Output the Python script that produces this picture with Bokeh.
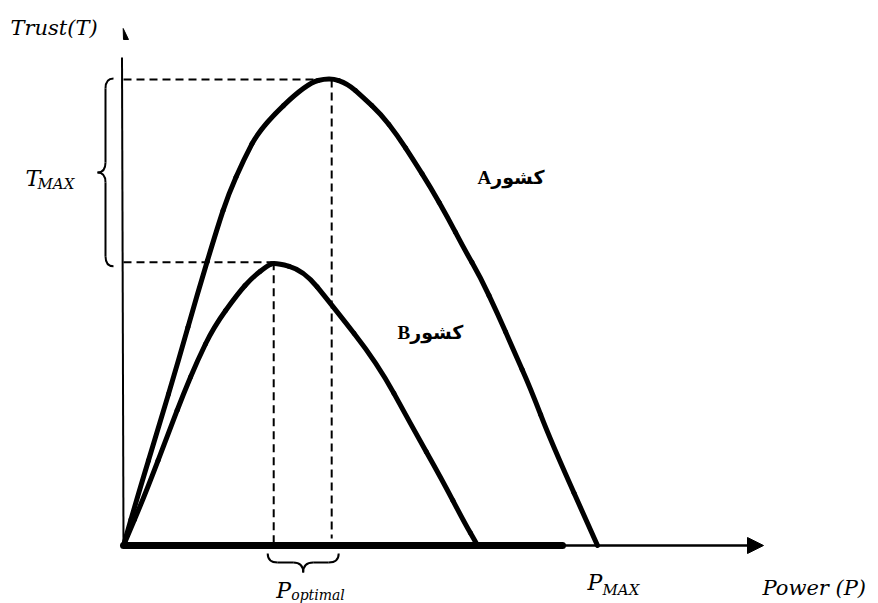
from bokeh.plotting import figure
from bokeh.models import Range1d
from bokeh.embed import file_html
from bokeh.resources import INLINE
from bokeh.core.properties import value

# ---- data (Power P, Trust T) ----
power_a = [0, 3.16, 7.38, 11.6, 15.6, 19.8, 22.2, 25.3, 28.9, 38.6, 43.5,
           47.3, 50.6, 54.2, 57.8, 61.2, 64.8, 68.4, 71.7, 75.3, 78.9, 82.3, 85.9, 90.1, 100]
trust_a = [0, 11.1, 25.2, 39.5, 53.8, 67.9, 75.2, 82.3, 89.3, 98.7, 100,
           98.7, 95.7, 92.3, 87.6, 82.3, 76.5, 70.1, 63.7, 57.3, 49.6, 41.7, 33.5, 22.4, 0]
power_b = [0, 4.64, 9.92, 12.7, 15.6, 19.0, 24.1, 27.2, 30.4, 31.9, 38.0, 43.7, 53.6, 60.5, 67.3, 71.7, 74.7]
trust_b = [0, 11.1, 25.2, 32.5, 39.5, 46.6, 53.8, 57.3, 59.8, 60.5, 58.8, 51.7, 38.9, 26.1, 13.9, 5.3, 0]
peak_a = (43.5, 100.0)
peak_b = (31.9, 60.5)
p_max = 100.0

label_a = "Aکشور"
label_b = "Bکشور"
y_title = "Trust(T)"
x_title = "Power (P)"

# ---- layout ----
W, H = 878, 603
SX, SY = 4.74, 4.68          # px per data unit
OX, OY = 123, 58             # origin in frame px (from left, from bottom)

def dx(px):
    return px / SX

def dy(px):
    return px / SY

p = figure(width=W, height=H, output_backend="svg", toolbar_location=None,
           x_range=Range1d(-OX / SX, (W - OX) / SX),
           y_range=Range1d(-OY / SY, (H - OY) / SY),
           min_border=0, background_fill_color="white", border_fill_color="white")
p.xaxis.visible = False
p.yaxis.visible = False
p.grid.visible = False
p.outline_line_color = None

# ---- axes drawn as arrows ----
y_top = dy(488)
p.line([0, -dx(1.5)], [0, y_top], line_color="black", line_width=2)
p.patch([dx(-0.3), 0, dx(5)], [dy(517), dy(506), dy(506)], color="black")
x_end = dx(625)
p.line([0, x_end], [0, 0], line_color="black", line_width=2.5)
p.line([0, dx(439)], [0, 0], line_color="black", line_width=7, line_cap="round")
p.patch([x_end - dx(1), x_end - dx(1), x_end + dx(15)], [dy(8), -dy(8), 0], color="black")

# ---- dashed guides ----
dash = "8 5"
p.line([0, peak_a[0]], [peak_a[1] - dy(2), peak_a[1] - dy(2)], line_color="black", line_width=2, line_dash=dash)
p.line([0, peak_b[0]], [peak_b[1], peak_b[1]], line_color="black", line_width=2, line_dash=dash)
p.line([peak_a[0] + dx(2), peak_a[0] + dx(2)], [peak_a[1] - dy(2), dy(7)], line_color="black", line_width=2, line_dash=dash)
p.line([peak_b[0] - dx(1), peak_b[0] - dx(1)], [peak_b[1], 0], line_color="black", line_width=2, line_dash=dash)


# ---- curves: smooth quadratic rendering with the read points as control points ----
def draw_curve(xs_, ys_):
    n = len(xs_)
    mx = [(xs_[i] + xs_[i + 1]) / 2 for i in range(n - 1)]
    my = [(ys_[i] + ys_[i + 1]) / 2 for i in range(n - 1)]
    p.segment(x0=[xs_[0], mx[-1]], y0=[ys_[0], my[-1]], x1=[mx[0], xs_[-1]], y1=[my[0], ys_[-1]],
              line_color="black", line_width=5, line_cap="round")
    p.quadratic(x0=mx[:-1], y0=my[:-1], x1=mx[1:], y1=my[1:], cx=xs_[1:-1], cy=ys_[1:-1],
                line_color="black", line_width=5, line_cap="round")


draw_curve(power_a, trust_a)
draw_curve(power_b, trust_b)

# ---- braces ----
bw = 2
# vertical brace (tip pointing left) spanning T of peak_b .. peak_a
xs = -dx(18)
xh = xs + dx(8)
xt = xs - dx(8)
top = peak_a[1] - dy(1)
bot = peak_b[1] - dy(4)
mid = (top + bot) / 2
rv = dy(10)
p.quadratic(x0=[xh, xs, xt, xs], y0=[top, mid + rv, mid, bot + rv],
            x1=[xs, xt, xs, xh], y1=[top - rv, mid, mid - rv, bot],
            cx=[xs, xs, xs, xs], cy=[top, mid, mid, bot],
            line_color="black", line_width=bw)
p.segment(x0=[xs, xs], y0=[top - rv, mid - rv], x1=[xs, xs], y1=[mid + rv, bot + rv],
          line_color="black", line_width=bw)

# horizontal brace (tip pointing down) spanning P of peak_b .. peak_a
ys = -dy(17)
yh = ys + dy(9)
yt = ys - dy(10)
left = peak_b[0] - dx(7)
right = peak_a[0] + dx(9)
hm = (left + right) / 2
rh = dx(10)
p.quadratic(x0=[left, hm - rh, hm, right - rh], y0=[yh, ys, yt, ys],
            x1=[left + rh, hm, hm + rh, right], y1=[ys, yt, ys, yh],
            cx=[left, hm, hm, right], cy=[ys, ys, ys, ys],
            line_color="black", line_width=bw)
p.segment(x0=[left + rh, hm + rh], y0=[ys, ys], x1=[hm - rh, right - rh], y1=[ys, ys],
          line_color="black", line_width=bw)

# ---- math-style labels ----
mf = value("DejaVu Serif")
p.text(x=[-dx(113)], y=[dy(518)], text=[y_title], text_font=mf, text_font_style="italic",
       text_font_size="21px", text_align="left", text_baseline="middle", text_color="black")
p.text(x=[x_end + dx(14)], y=[-dy(42)], text=[x_title], text_font=mf, text_font_style="italic",
       text_font_size="21px", text_align="left", text_baseline="alphabetic", text_color="black")
# T_MAX
p.text(x=[-dx(98)], y=[dy(367)], text=["T"], text_font=mf, text_font_style="italic",
       text_font_size="22px", text_align="left", text_baseline="alphabetic", text_color="black")
p.text(x=[-dx(86)], y=[dy(362)], text=["MAX"], text_font=mf, text_font_style="italic",
       text_font_size="15px", text_align="left", text_baseline="alphabetic", text_color="black")
# P_MAX
p.text(x=[p_max - dx(10)], y=[-dy(37)], text=["P"], text_font=mf, text_font_style="italic",
       text_font_size="22px", text_align="left", text_baseline="alphabetic", text_color="black")
p.text(x=[p_max + dx(5)], y=[-dy(44)], text=["MAX"], text_font=mf, text_font_style="italic",
       text_font_size="15px", text_align="left", text_baseline="alphabetic", text_color="black")
# P_optimal
p.text(x=[hm - dx(27)], y=[-dy(45)], text=["P"], text_font=mf, text_font_style="italic",
       text_font_size="22px", text_align="left", text_baseline="alphabetic", text_color="black")
p.text(x=[hm - dx(12)], y=[-dy(49)], text=["optimal"], text_font=mf, text_font_style="italic",
       text_font_size="14px", text_align="left", text_baseline="alphabetic", text_color="black")

# ---- country labels ----
cf = value("Liberation Serif, DejaVu Sans")
p.text(x=[dx(354)], y=[dy(368)], text=[label_a], text_font=cf, text_font_style="bold",
       text_font_size="19px", text_align="left", text_baseline="alphabetic", text_color="black")
p.text(x=[dx(274)], y=[dy(213)], text=[label_b], text_font=cf, text_font_style="bold",
       text_font_size="19px", text_align="left", text_baseline="alphabetic", text_color="black")

open("out.html", "w").write(file_html(p, INLINE))
